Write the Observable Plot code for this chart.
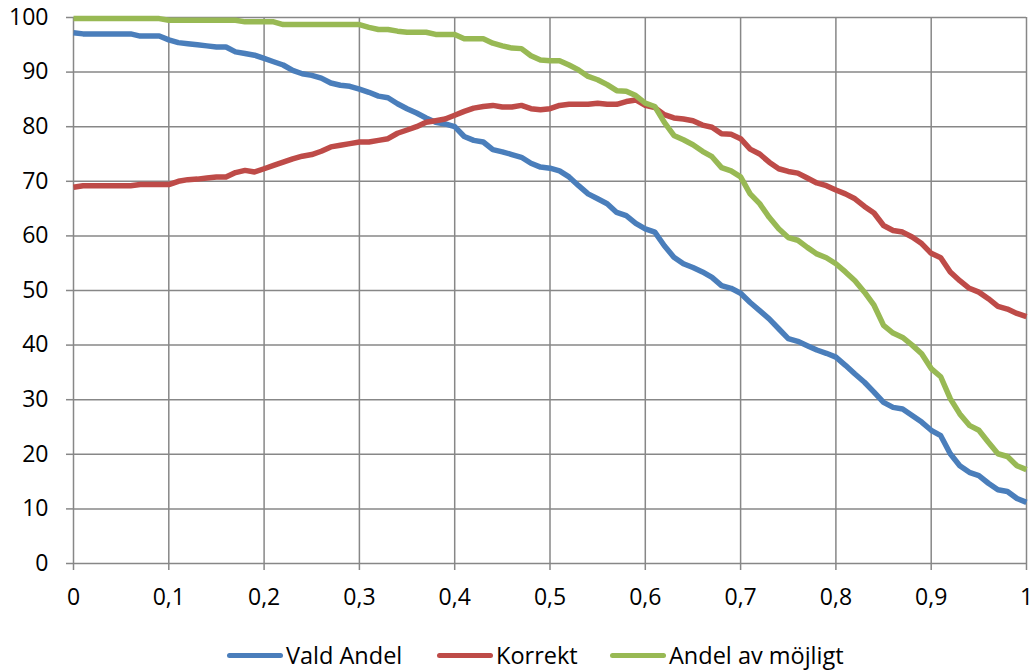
<!DOCTYPE html>
<html><head><meta charset="utf-8">
<script src="https://cdn.jsdelivr.net/npm/d3@7"></script>
<script src="https://cdn.jsdelivr.net/npm/@observablehq/plot@0.6"></script>
<style>
body{margin:0;background:#fff;font-family:"Open Sans",sans-serif;}
#chart svg{display:block;}
#legend{position:relative;width:1034px;height:30px;margin-top:25px;font-size:23.5px;color:#000;}
.item{position:absolute;top:0;display:flex;align-items:center;height:30px;white-space:nowrap;}
.sw{width:56px;height:5px;border-radius:3px;margin-right:3px;}
</style></head><body>
<div id="chart"></div>
<div id="legend"></div>
<script>
const xs = [0,0.01,0.02,0.03,0.04,0.05,0.06,0.07,0.08,0.09,
0.1,0.11,0.12,0.13,0.14,0.15,0.16,0.17,0.18,0.19,
0.2,0.21,0.22,0.23,0.24,0.25,0.26,0.27,0.28,0.29,
0.3,0.31,0.32,0.33,0.34,0.35,0.36,0.37,0.38,0.39,
0.4,0.41,0.42,0.43,0.44,0.45,0.46,0.47,0.48,0.49,
0.5,0.51,0.52,0.53,0.54,0.55,0.56,0.57,0.58,0.59,
0.6,0.61,0.62,0.63,0.64,0.65,0.66,0.67,0.68,0.69,
0.7,0.71,0.72,0.73,0.74,0.75,0.76,0.77,0.78,0.79,
0.8,0.81,0.82,0.83,0.84,0.85,0.86,0.87,0.88,0.89,
0.9,0.91,0.92,0.93,0.94,0.95,0.96,0.97,0.98,0.99,1];

const valdAndel = [97.2,97.0,97.0,97.0,97.0,97.0,97.0,96.6,96.6,96.6,
95.9,95.4,95.2,95.0,94.8,94.6,94.6,93.7,93.4,93.1,
92.5,91.9,91.3,90.3,89.7,89.4,88.9,88.0,87.6,87.4,
86.9,86.3,85.6,85.3,84.2,83.3,82.5,81.6,80.8,80.5,
80.0,78.2,77.5,77.2,75.8,75.4,74.9,74.4,73.3,72.6,
72.4,71.9,70.8,69.2,67.7,66.8,65.9,64.3,63.7,62.3,
61.3,60.7,58.2,56.1,54.9,54.2,53.4,52.4,50.9,50.4,
49.5,47.8,46.3,44.8,43.0,41.2,40.7,39.9,39.1,38.5,
37.8,36.3,34.7,33.2,31.4,29.5,28.6,28.3,27.1,25.9,
24.4,23.4,20.1,17.9,16.7,16.1,14.7,13.5,13.2,11.9,11.2];

const korrekt = [68.9,69.2,69.2,69.2,69.2,69.2,69.2,69.4,69.4,69.4,
69.4,70.0,70.3,70.4,70.6,70.8,70.8,71.6,72.0,71.7,
72.3,72.9,73.5,74.1,74.6,74.9,75.5,76.3,76.6,76.9,
77.2,77.2,77.5,77.8,78.8,79.4,80.0,80.8,81.1,81.4,
82.1,82.8,83.4,83.7,83.9,83.6,83.6,83.9,83.3,83.1,
83.3,83.9,84.1,84.1,84.1,84.3,84.1,84.1,84.6,84.9,
83.9,83.5,82.2,81.6,81.4,81.1,80.3,79.9,78.7,78.6,
77.8,75.9,75.0,73.5,72.3,71.8,71.5,70.6,69.7,69.2,
68.4,67.7,66.8,65.4,64.2,61.9,61.0,60.7,59.8,58.6,
56.8,56.0,53.4,51.8,50.4,49.7,48.5,47.1,46.6,45.8,45.2];

const andelMojligt = [99.8,99.8,99.8,99.8,99.8,99.8,99.8,99.8,99.8,99.8,
99.5,99.5,99.5,99.5,99.5,99.5,99.5,99.5,99.2,99.2,
99.2,99.2,98.7,98.7,98.7,98.7,98.7,98.7,98.7,98.7,
98.7,98.2,97.8,97.8,97.5,97.3,97.3,97.3,96.9,96.9,
96.9,96.1,96.1,96.1,95.3,94.8,94.4,94.3,93.0,92.2,
92.1,92.1,91.3,90.4,89.2,88.6,87.7,86.6,86.5,85.7,
84.3,83.7,80.8,78.4,77.6,76.7,75.5,74.5,72.5,71.9,
70.8,67.7,65.9,63.4,61.3,59.7,59.2,57.9,56.7,56.0,
54.9,53.4,51.8,49.7,47.3,43.6,42.2,41.4,40.0,38.4,
35.7,34.2,30.2,27.4,25.3,24.4,22.2,20.1,19.6,17.9,17.2];

const seriesNames = ["Vald Andel", "Korrekt", "Andel av möjligt"];
const seriesColors = ["#4A7EBB", "#BE4B48", "#98B954"];
const xTicks = [0,0.1,0.2,0.3,0.4,0.5,0.6,0.7,0.8,0.9,1];
const yTicks = [0,10,20,30,40,50,60,70,80,90,100];

const allSeries = [valdAndel, korrekt, andelMojligt];
const rows = allSeries.map(vals => xs.map((x, i) => ({x, y: vals[i]})));
const fmt = d => String(d).replace(".", ",");
const grid = "#878787";

const chart = Plot.plot({
  width: 1034,
  height: 615,
  marginTop: 17,
  marginLeft: 73,
  marginRight: 8,
  marginBottom: 52,
  style: {fontFamily: "Open Sans, sans-serif", fontSize: "23px", color: "#000", background: "#fff"},
  x: {domain: [0, 1]},
  y: {domain: [0, 100]},
  marks: [
    Plot.ruleX(xTicks, {stroke: grid, strokeWidth: 1.5}),
    Plot.ruleY(yTicks, {stroke: grid, strokeWidth: 1.5}),
    Plot.axisX(xTicks, {tickSize: 7, tickPadding: 18, tickFormat: fmt, stroke: grid, strokeWidth: 1.5, fill: "#000", fontSize: 23, label: null}),
    Plot.axisY(yTicks, {tickSize: 7, tickPadding: 18, tickFormat: fmt, stroke: grid, strokeWidth: 1.5, fill: "#000", fontSize: 23, label: null}),
    ...rows.map((r, k) => Plot.line(r, {x: "x", y: "y", stroke: seriesColors[k], strokeWidth: 5.5, strokeLinejoin: "round", strokeLinecap: "butt"}))
  ]
});
document.getElementById("chart").append(chart);

const legendLeft = [227, 437, 610];
const legend = document.getElementById("legend");
seriesNames.forEach((name, k) => {
  const item = document.createElement("div");
  item.className = "item";
  item.style.left = legendLeft[k] + "px";
  const sw = document.createElement("span");
  sw.className = "sw";
  sw.style.background = seriesColors[k];
  const t = document.createElement("span");
  t.textContent = name;
  item.append(sw, t);
  legend.append(item);
});
</script>
</body></html>
